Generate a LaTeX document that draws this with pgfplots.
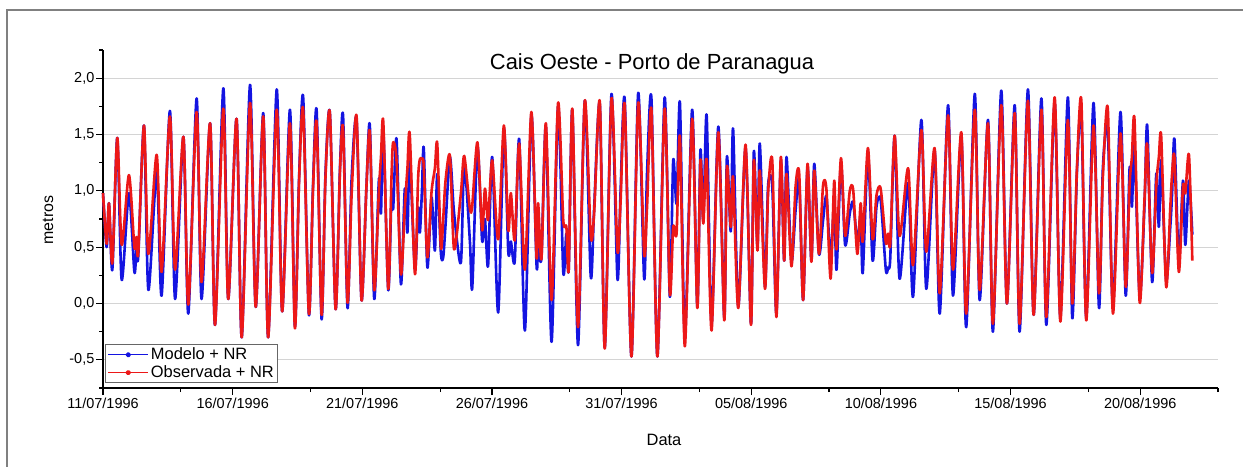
\documentclass[border=0pt]{standalone}
\usepackage{pgfplots}
\pgfplotsset{compat=1.18}
\usepackage{pgfplotstable}
\usepackage{fontspec}
\setmainfont{Liberation Sans}

\definecolor{modelblue}{RGB}{20,20,225}
\definecolor{obsred}{RGB}{236,24,24}
\definecolor{framegray}{RGB}{128,128,128}
\definecolor{gridgray}{RGB}{212,212,212}

% Nivel (m) -- dias contados a partir de 11/07/1996 00h
\pgfplotstableread{
day modelo observada
0.00 0.98 0.98
0.14 0.50 0.53
0.23 0.89 0.89
0.36 0.30 0.36
0.55 1.47 1.47
0.72 0.21 0.52
1.00 0.98 1.14
1.21 0.28 0.50
1.29 0.48 0.59
1.36 0.42 0.45
1.58 1.58 1.58
1.75 0.12 0.44
2.07 1.17 1.32
2.26 0.07 0.28
2.58 1.71 1.66
2.78 0.04 0.30
3.10 1.48 1.48
3.29 -0.09 -0.01
3.61 1.82 1.70
3.80 0.04 0.19
4.13 1.60 1.60
4.32 -0.19 -0.19
4.64 1.91 1.73
4.83 0.04 0.04
5.15 1.64 1.64
5.35 -0.30 -0.30
5.67 1.94 1.78
5.89 -0.03 -0.03
6.18 1.69 1.66
6.37 -0.30 -0.30
6.70 1.90 1.72
6.91 -0.07 -0.07
7.21 1.72 1.60
7.40 -0.20 -0.22
7.56 1.10 1.08
7.72 1.83 1.72
7.94 -0.10 -0.09
8.10 1.05 1.02
8.24 1.71 1.60
8.43 -0.14 -0.10
8.58 1.15 1.12
8.75 1.69 1.69
8.97 -0.05 -0.05
9.14 1.21 1.18
9.26 1.66 1.55
9.43 -0.04 0.01
9.59 1.12 0.98
9.78 1.63 1.66
9.97 0.03 0.03
10.16 1.04 1.04
10.29 1.58 1.52
10.46 0.04 0.12
10.64 1.10 1.00
10.72 0.80 1.30
10.81 1.55 1.61
11.00 0.12 0.13
11.13 1.00 1.15
11.19 0.84 1.43
11.32 1.46 1.27
11.49 0.17 0.26
11.64 1.02 0.85
11.74 0.63 1.20
11.83 1.30 1.50
12.03 0.30 0.26
12.15 0.85 1.10
12.22 0.63 1.28
12.30 1.00 1.28
12.37 1.38 1.22
12.51 0.32 0.41
12.67 0.94 0.99
12.80 0.47 1.20
12.89 1.15 1.42
13.03 0.45 0.50
13.12 0.41 0.75
13.21 0.70 1.09
13.38 1.30 1.31
13.54 0.80 0.48
13.80 0.36 0.97
13.93 1.24 1.31
14.15 0.55 0.84
14.24 0.14 0.87
14.44 1.39 1.43
14.62 0.56 0.65
14.73 0.75 1.02
14.85 0.33 0.74
15.01 1.30 1.27
15.24 -0.08 0.57
15.46 1.55 1.58
15.63 0.46 0.65
15.73 0.55 0.98
15.88 0.38 0.56
16.05 1.46 1.42
16.27 -0.24 0.30
16.52 1.67 1.70
16.72 0.34 0.41
16.78 0.50 0.89
16.91 0.41 0.40
17.08 1.57 1.60
17.30 -0.34 0.03
17.55 1.75 1.78
17.75 0.28 0.74
17.87 0.62 0.68
17.96 0.30 0.30
18.10 1.72 1.73
18.32 -0.37 -0.21
18.58 1.80 1.80
18.81 0.24 0.60
18.94 0.84 0.80
19.16 1.77 1.79
19.35 -0.39 -0.40
19.61 1.86 1.82
19.84 0.22 0.47
19.96 0.99 0.90
20.12 1.81 1.76
20.38 -0.47 -0.47
20.64 1.87 1.78
20.87 0.22 0.44
20.98 1.15 0.85
21.15 1.82 1.72
21.38 -0.47 -0.47
21.66 1.83 1.73
21.86 0.06 0.09
21.99 1.27 0.68
22.12 0.89 0.62
22.25 1.78 1.48
22.44 -0.30 -0.38
22.72 1.72 1.64
22.92 -0.03 -0.04
23.04 1.36 1.27
23.15 0.74 0.71
23.28 1.67 1.27
23.47 -0.18 -0.24
23.73 1.57 1.52
23.96 -0.13 -0.15
24.06 1.30 1.21
24.21 0.64 0.68
24.30 1.55 1.12
24.50 -0.03 -0.04
24.78 1.38 1.41
24.99 -0.18 -0.19
25.10 1.35 1.27
25.24 0.50 0.47
25.33 1.42 1.18
25.53 0.15 0.13
25.65 1.05 0.98
25.81 1.04 1.27
25.97 -0.09 -0.12
26.14 1.27 1.30
26.27 0.38 0.38
26.36 1.30 1.15
26.55 0.38 0.33
26.71 0.83 1.04
26.85 1.09 1.15
27.00 0.03 0.03
27.17 1.21 1.24
27.32 0.38 0.37
27.43 1.24 1.18
27.61 0.44 0.44
27.77 0.74 1.05
27.90 0.95 1.01
28.06 0.40 0.22
28.20 0.90 1.09
28.29 0.30 0.48
28.46 1.24 1.29
28.62 0.52 0.60
28.80 0.80 1.00
28.93 0.90 1.01
29.09 0.55 0.44
29.22 0.77 0.89
29.30 0.27 0.55
29.50 1.32 1.38
29.68 0.38 0.57
29.83 0.86 0.96
29.99 0.92 1.02
30.19 0.30 0.54
30.28 0.32 0.62
30.36 0.40 0.53
30.53 1.49 1.49
30.72 0.22 0.60
31.05 1.07 1.20
31.24 0.06 0.34
31.56 1.63 1.54
31.75 0.13 0.46
32.07 1.36 1.38
32.27 -0.09 0.09
32.59 1.76 1.67
32.78 0.07 0.30
33.10 1.49 1.52
33.29 -0.21 -0.09
33.62 1.86 1.72
33.81 0.03 0.12
34.13 1.63 1.60
34.32 -0.25 -0.18
34.64 1.89 1.76
34.86 0.00 0.00
35.16 1.76 1.69
35.35 -0.25 -0.18
35.67 1.90 1.80
35.89 -0.10 -0.10
36.19 1.82 1.72
36.38 -0.19 -0.12
36.70 1.78 1.83
36.92 -0.12 -0.16
37.21 1.83 1.63
37.38 -0.13 0.00
37.56 1.17 1.20
37.73 1.69 1.80
37.92 -0.12 -0.15
38.20 1.78 1.58
38.41 -0.04 0.09
38.56 1.20 1.12
38.75 1.54 1.73
38.95 -0.03 -0.09
39.24 1.70 1.51
39.44 0.07 0.15
39.59 1.20 1.05
39.68 0.86 1.30
39.78 1.39 1.63
39.98 0.06 0.01
40.17 0.90 0.95
40.27 1.58 1.41
40.46 0.19 0.27
40.62 1.15 1.05
40.72 0.68 1.30
40.81 1.27 1.48
41.00 0.21 0.15
41.16 0.68 0.85
41.23 0.98 1.15
41.32 1.46 1.30
41.49 0.38 0.28
41.65 1.09 1.04
41.74 0.52 0.98
41.88 1.09 1.32
42.01 0.61 0.38
}\mare

\begin{document}
\begin{tikzpicture}[x=1bp,y=1bp]
\useasboundingbox (0,0) rectangle (1243,-467);
\fill[white] (0,0) rectangle (1243,-467);
\draw[framegray, line width=2.2bp] (7,-10) rectangle (1246,-470);
\begin{axis}[
  at={(103bp,-388bp)}, anchor=south west,
  width=1115bp, height=338bp, scale only axis,
  xmin=0, xmax=43, ymin=-0.75, ymax=2.25,
  axis x line*=bottom, axis y line*=left,
  axis line style={line width=1.3bp, black},
  xtick={0,5,...,40},
  xticklabels={11/07/1996,16/07/1996,21/07/1996,26/07/1996,31/07/1996,05/08/1996,10/08/1996,15/08/1996,20/08/1996},
  minor xtick={3,8,...,43},
  ytick={-0.5,0,...,2},
  yticklabels={{-0,5},{0,0},{0,5},{1,0},{1,5},{2,0}},
  minor ytick={-0.75,-0.25,...,2.25},
  tick align=outside,
  major tick length=7bp, minor tick length=4bp,
  tick style={black, line width=1.1bp},
  ymajorgrids, grid style={gridgray, line width=1bp},
  ticklabel style={font=\fontsize{14.5}{14.5}\selectfont},
  yticklabel style={inner sep=1.5bp},
  clip=false,
  legend style={at={(0.002,0.014)}, anchor=south west, draw=black!60,
    line width=0.8bp, fill=white, inner xsep=2bp, inner ysep=1.5bp,
    font=\fontsize{16.5}{17.5}\selectfont, row sep=0.5bp},
  legend cell align=left,
  legend image code/.code={%
    \draw[#1, line width=1.3bp] (0bp,0bp) -- (40bp,0bp);
    \fill[#1] (20bp,0bp) circle (1.4bp);},
]
\addplot[modelblue, line width=2.6bp, line join=round, smooth, tension=0.45] table[x=day, y=modelo] {\mare};
\addlegendentry{Modelo + NR}
\addplot[obsred, line width=2.6bp, line join=round, smooth, tension=0.45] table[x=day, y=observada] {\mare};
\addlegendentry{Observada + NR}
\end{axis}
\node[anchor=base, font=\fontsize{22}{22}\selectfont] at (652,-70) {Cais Oeste - Porto de Paranagua};
\node[anchor=base, font=\fontsize{16.5}{16.5}\selectfont] at (664,-446) {Data};
\node[rotate=90, font=\fontsize{16}{16}\selectfont] at (48,-220) {metros};
\end{tikzpicture}
\end{document}
